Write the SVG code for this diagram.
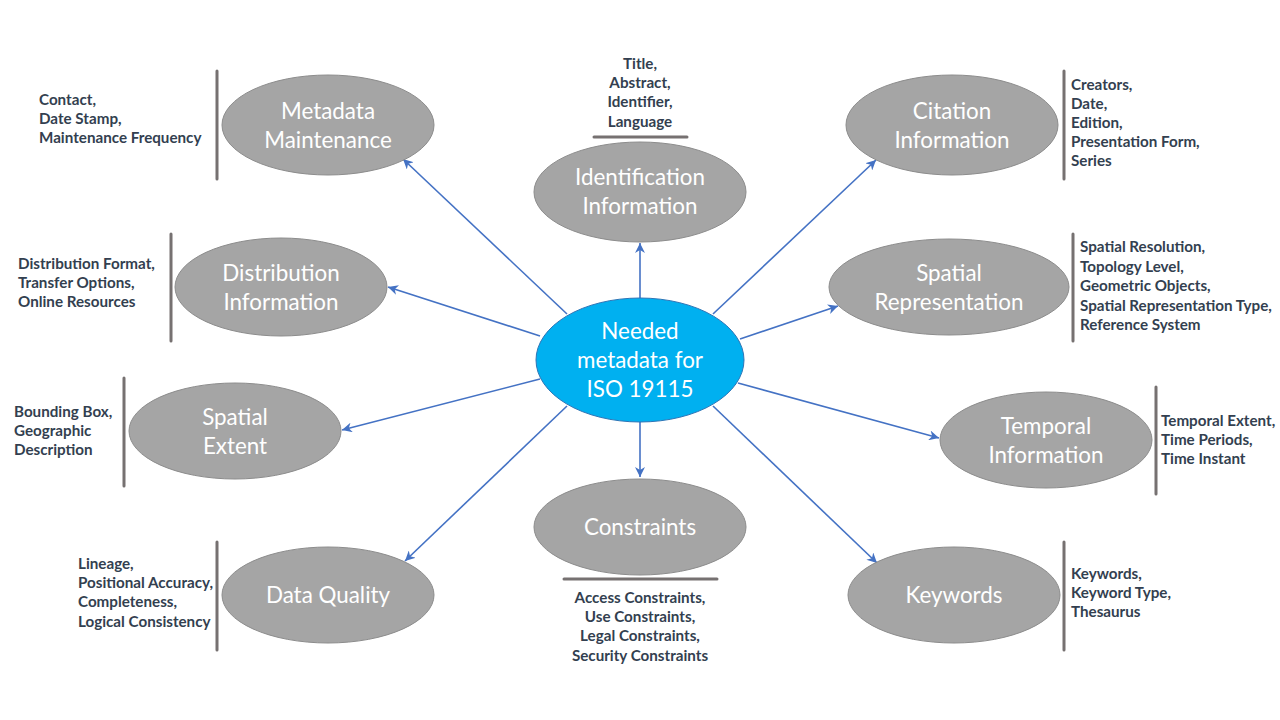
<svg xmlns="http://www.w3.org/2000/svg" width="1280" height="720" viewBox="0 0 1280 720">
<defs>
<marker id="arr" markerUnits="userSpaceOnUse" markerWidth="12" markerHeight="10" refX="10" refY="5" orient="auto">
<path d="M0,0 L10,5 L0,10 L3,5 Z" fill="#4472C4"/>
</marker>
<style>
.node{fill:#A5A5A5;stroke:#8C8C8C;stroke-width:1}
.hub{fill:#00B0F0;stroke:#2E75B6;stroke-width:1}
.lbl{font-family:Lato,"Open Sans","Liberation Sans",sans-serif;font-size:22.4px;fill:#FFFFFF;text-anchor:middle}
.note{font-family:Lato,"Open Sans","Liberation Sans",sans-serif;font-size:15.2px;font-weight:bold;fill:#333F50}
.mid{text-anchor:middle}
.brk{stroke:#767171;stroke-width:3;stroke-linecap:round;fill:none}
.con{stroke:#4472C4;stroke-width:1.6;fill:none;marker-end:url(#arr)}
</style>
</defs>
<rect width="1280" height="720" fill="#FFFFFF"/>
<g id="connectors">
<line class="con" x1="567" y1="314" x2="403" y2="159"/>
<line class="con" x1="640" y1="298" x2="640" y2="243"/>
<line class="con" x1="713" y1="314" x2="876" y2="160"/>
<line class="con" x1="540" y1="336" x2="388" y2="287"/>
<line class="con" x1="740" y1="339" x2="838" y2="306"/>
<line class="con" x1="540" y1="379" x2="342" y2="430"/>
<line class="con" x1="738" y1="383" x2="939" y2="438"/>
<line class="con" x1="640" y1="422" x2="640" y2="477"/>
<line class="con" x1="567" y1="406" x2="405" y2="561"/>
<line class="con" x1="713" y1="406" x2="877" y2="563"/>
</g>
<g id="hub">
<ellipse class="hub" cx="640" cy="360" rx="104" ry="62"/>
<text class="lbl" x="640" y="339">Needed</text>
<text class="lbl" x="640" y="368">metadata for</text>
<text class="lbl" x="640" y="397">ISO 19115</text>
</g>
<g id="metadata-maintenance">
<ellipse class="node" cx="328" cy="125" rx="106" ry="50"/>
<text class="lbl" x="328" y="119">Metadata</text>
<text class="lbl" x="328" y="148">Maintenance</text>
<line class="brk" x1="217" y1="71" x2="217" y2="179"/>
<text class="note" x="39" y="105">Contact,</text>
<text class="note" x="39" y="124">Date Stamp,</text>
<text class="note" x="39" y="143">Maintenance Frequency</text>
</g>
<g id="identification-information">
<ellipse class="node" cx="640" cy="192" rx="106" ry="50"/>
<text class="lbl" x="640" y="185">Identification</text>
<text class="lbl" x="640" y="214">Information</text>
<line class="brk" x1="594" y1="137" x2="687" y2="137"/>
<text class="note mid" x="640" y="69">Title,</text>
<text class="note mid" x="640" y="88">Abstract,</text>
<text class="note mid" x="640" y="107">Identifier,</text>
<text class="note mid" x="640" y="127">Language</text>
</g>
<g id="citation-information">
<ellipse class="node" cx="952" cy="125" rx="106" ry="50"/>
<text class="lbl" x="952" y="119">Citation</text>
<text class="lbl" x="952" y="148">Information</text>
<line class="brk" x1="1064" y1="71" x2="1064" y2="179"/>
<text class="note" x="1071" y="90">Creators,</text>
<text class="note" x="1071" y="109">Date,</text>
<text class="note" x="1071" y="128">Edition,</text>
<text class="note" x="1071" y="147">Presentation Form,</text>
<text class="note" x="1071" y="166">Series</text>
</g>
<g id="distribution-information">
<ellipse class="node" cx="281" cy="287" rx="106" ry="49"/>
<text class="lbl" x="281" y="281">Distribution</text>
<text class="lbl" x="281" y="310">Information</text>
<line class="brk" x1="171" y1="234" x2="171" y2="341"/>
<text class="note" x="18" y="269">Distribution Format,</text>
<text class="note" x="18" y="288">Transfer Options,</text>
<text class="note" x="18" y="307">Online Resources</text>
</g>
<g id="spatial-representation">
<ellipse class="node" cx="949" cy="287" rx="120" ry="48"/>
<text class="lbl" x="949" y="281">Spatial</text>
<text class="lbl" x="949" y="310">Representation</text>
<line class="brk" x1="1073" y1="234" x2="1073" y2="341"/>
<text class="note" x="1080" y="252">Spatial Resolution,</text>
<text class="note" x="1080" y="272">Topology Level,</text>
<text class="note" x="1080" y="291">Geometric Objects,</text>
<text class="note" x="1080" y="311">Spatial Representation Type,</text>
<text class="note" x="1080" y="330">Reference System</text>
</g>
<g id="spatial-extent">
<ellipse class="node" cx="235" cy="431" rx="106" ry="48"/>
<text class="lbl" x="235" y="425">Spatial</text>
<text class="lbl" x="235" y="454">Extent</text>
<line class="brk" x1="124" y1="378" x2="124" y2="486"/>
<text class="note" x="14" y="417">Bounding Box,</text>
<text class="note" x="14" y="436">Geographic</text>
<text class="note" x="14" y="455">Description</text>
</g>
<g id="temporal-information">
<ellipse class="node" cx="1046" cy="440" rx="106" ry="48"/>
<text class="lbl" x="1046" y="434">Temporal</text>
<text class="lbl" x="1046" y="463">Information</text>
<line class="brk" x1="1156" y1="387" x2="1156" y2="494"/>
<text class="note" x="1161" y="426">Temporal Extent,</text>
<text class="note" x="1161" y="445">Time Periods,</text>
<text class="note" x="1161" y="464">Time Instant</text>
</g>
<g id="constraints">
<ellipse class="node" cx="640" cy="527" rx="106" ry="48"/>
<text class="lbl" x="640" y="535">Constraints</text>
<line class="brk" x1="564" y1="579" x2="717" y2="579"/>
<text class="note mid" x="640" y="603">Access Constraints,</text>
<text class="note mid" x="640" y="622">Use Constraints,</text>
<text class="note mid" x="640" y="641">Legal Constraints,</text>
<text class="note mid" x="640" y="661">Security Constraints</text>
</g>
<g id="data-quality">
<ellipse class="node" cx="328" cy="595" rx="106" ry="48"/>
<text class="lbl" x="328" y="603">Data Quality</text>
<line class="brk" x1="217" y1="542" x2="217" y2="650"/>
<text class="note" x="78" y="569">Lineage,</text>
<text class="note" x="78" y="588">Positional Accuracy,</text>
<text class="note" x="78" y="607">Completeness,</text>
<text class="note" x="78" y="627">Logical Consistency</text>
</g>
<g id="keywords">
<ellipse class="node" cx="954" cy="595" rx="106" ry="48"/>
<text class="lbl" x="954" y="603">Keywords</text>
<line class="brk" x1="1064" y1="542" x2="1064" y2="650"/>
<text class="note" x="1071" y="579">Keywords,</text>
<text class="note" x="1071" y="598">Keyword Type,</text>
<text class="note" x="1071" y="617">Thesaurus</text>
</g>
</svg>
